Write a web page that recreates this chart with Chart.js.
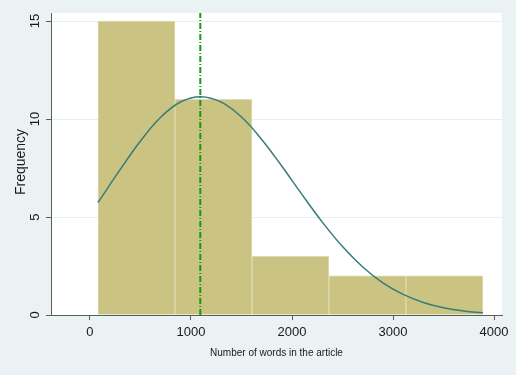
<!DOCTYPE html>
<html>
<head>
<meta charset="utf-8">
<script src="https://cdn.jsdelivr.net/npm/chart.js@4"></script>
<style>
  body { margin: 0; background: #eaf2f3; }
  #wrap { width: 516px; height: 375px; }
</style>
</head>
<body>
<div id="wrap"><canvas id="histChart" width="516" height="375"></canvas></div>
<script>
// histogram bins (edges) and counts
const binEdges = [79, 841, 1603, 2366, 3128, 3890];
const binCounts = [15, 11, 3, 2, 2];

// normal density overlay (frequency scale)
const curveX = [79, 300, 500, 700, 900, 1100, 1300, 1500, 1700, 1900, 2100, 2300, 2500, 2700, 2900, 3100, 3300, 3500, 3700, 3890];
const curveY = [5.74, 7.43, 8.88, 10.09, 10.88, 11.14, 10.86, 10.1, 8.96, 7.59, 6.14, 4.74, 3.49, 2.45, 1.64, 1.05, 0.64, 0.37, 0.21, 0.11];

// mean marker
const meanWords = 1092;

const xTicks = [0, 1000, 2000, 3000, 4000];
const yTicks = [0, 5, 10, 15];

const FONT = 'Liberation Sans, Arial, sans-serif';
const axisGray = '#5c5c5c';

const binCenters = binCounts.map((c, i) => (binEdges[i] + binEdges[i + 1]) / 2);

// white plot region + titles / rotated y labels (Stata look)
const stataPlugin = {
    id: 'stataLook',
    beforeDraw: (chart) => {
        const { ctx, chartArea: a } = chart;
        ctx.save();
        ctx.fillStyle = '#eaf2f3';
        ctx.fillRect(0, 0, chart.width, chart.height);
        ctx.fillStyle = '#ffffff';
        ctx.fillRect(a.left, a.top, a.right - a.left, a.bottom - a.top);
        ctx.restore();
    },
    afterDraw: (chart) => {
        const { ctx, chartArea: a } = chart;
        const ys = chart.scales.y;
        ctx.save();
        ctx.fillStyle = '#1a1a1a';
        ctx.textAlign = 'center';
        ctx.textBaseline = 'middle';
        // y tick labels, rotated
        ctx.font = '13px ' + FONT;
        yTicks.forEach(v => {
            const py = ys.getPixelForValue(v);
            ctx.save();
            ctx.translate(35, py);
            ctx.rotate(-Math.PI / 2);
            ctx.fillText(String(v), 0, 0);
            ctx.restore();
        });
        // y title
        ctx.save();
        ctx.translate(21, (a.top + a.bottom) / 2 - 2);
        ctx.rotate(-Math.PI / 2);
        ctx.font = '14px ' + FONT;
        ctx.fillText('Frequency', 0, 0);
        ctx.restore();
        // x title
        ctx.font = '10px ' + FONT;
        ctx.fillText('Number of words in the article', (a.left + a.right) / 2, 353);
        ctx.restore();
    }
};

new Chart(document.getElementById('histChart').getContext('2d'), {
    type: 'bar',
    data: {
        datasets: [
            {
                type: 'line',
                label: 'Normal',
                data: curveX.map((x, i) => ({ x: x, y: curveY[i] })),
                borderColor: '#347d7a',
                borderWidth: 1.5,
                pointRadius: 0,
                tension: 0.4,
                fill: false,
                order: 1
            },
            {
                type: 'line',
                label: 'Mean',
                data: [{ x: meanWords, y: 0 }, { x: meanWords, y: 15.41 }],
                borderColor: '#169a16',
                borderWidth: 2,
                borderDash: [6, 2, 1, 2],
                pointRadius: 0,
                fill: false,
                order: 2
            },
            {
                label: 'Frequency',
                data: binCenters.map((x, i) => ({ x: x, y: binCounts[i] })),
                backgroundColor: '#cbc382',
                borderColor: '#e0dbb2',
                borderWidth: 1,
                barPercentage: 1,
                categoryPercentage: 1,
                order: 3
            }
        ]
    },
    options: {
        responsive: false,
        animation: false,
        layout: { padding: { left: 0, right: 14, top: 13, bottom: 0 } },
        plugins: { legend: { display: false }, tooltip: { enabled: false } },
        scales: {
            x: {
                type: 'linear',
                offset: false,
                min: -386,
                max: 4079,
                afterBuildTicks: (s) => { s.ticks = xTicks.map(v => ({ value: v })); },
                afterFit: (s) => { s.height = 60; },
                grid: { offset: false, drawOnChartArea: false, drawTicks: true, tickLength: 5, tickColor: axisGray, tickWidth: 1 },
                border: { color: axisGray, width: 1 },
                ticks: { color: '#1a1a1a', font: { family: FONT, size: 13 }, padding: 5, maxRotation: 0, callback: (v) => String(v) }
            },
            y: {
                min: 0,
                max: 15.41,
                afterBuildTicks: (s) => { s.ticks = yTicks.map(v => ({ value: v })); },
                afterFit: (s) => { s.width = 51; },
                grid: { color: '#e6eef0', drawTicks: true, tickLength: 5, tickColor: axisGray },
                border: { color: axisGray, width: 1 },
                ticks: { display: false }
            }
        }
    },
    plugins: [stataPlugin]
});
</script>
</body>
</html>
